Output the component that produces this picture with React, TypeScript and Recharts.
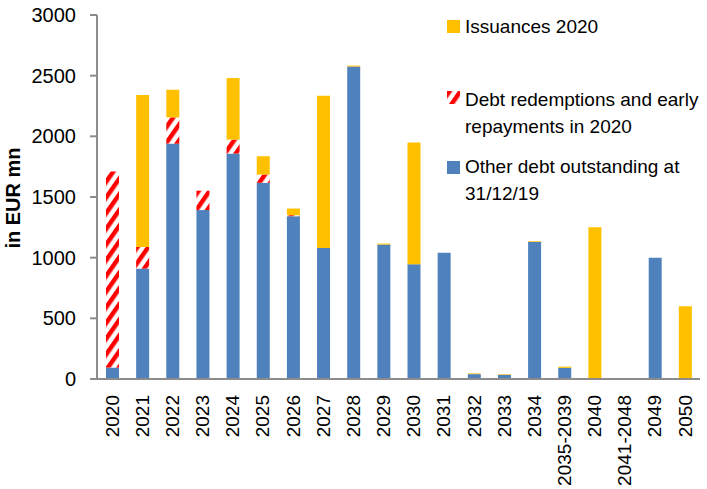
import React from 'react';
import { BarChart, Bar, XAxis, YAxis, Label } from 'recharts';

const categories = [
  '2020', '2021', '2022', '2023', '2024', '2025', '2026', '2027', '2028', '2029',
  '2030', '2031', '2032', '2033', '2034', '2035-2039', '2040', '2041-2048', '2049', '2050',
];
const otherDebt = [95, 910, 1940, 1392, 1858, 1617, 1342, 1079, 2575, 1108, 945, 1041, 40, 35, 1130, 92, 0, 0, 1000, 0];
const redemptions = [1615, 178, 216, 160, 115, 68, 8, 0, 0, 0, 0, 0, 0, 0, 0, 0, 0, 0, 0, 0];
const issuances = [0, 1252, 228, 0, 507, 151, 55, 1255, 8, 8, 1005, 0, 6, 5, 6, 10, 1250, 0, 0, 600];
const yTicks = [0, 500, 1000, 1500, 2000, 2500, 3000];

const data = categories.map((name, i) => ({
  name,
  other: otherDebt[i],
  redemptions: redemptions[i],
  issuances: issuances[i],
}));

const BLUE = '#4F81BD';
const YELLOW = '#FFC000';
const AXIS = '#8C8C8C';
const FONT = '"Liberation Sans", Arial, sans-serif';

const XTick = (props: any) => {
  const { x, y, payload } = props;
  return (
    <text
      x={x}
      y={y}
      transform={`rotate(-90, ${x}, ${y})`}
      textAnchor="end"
      dy="0.35em"
      dx={-8}
      fontSize={19}
      fontFamily={FONT}
      fill="#000"
    >
      {payload.value}
    </text>
  );
};

const legendText: React.CSSProperties = { fontSize: 19, lineHeight: '27px', color: '#000' };

// legend drawn as an overlay so it doesn't shrink the plot area
const LegendBox = () => (
  <div style={{ fontFamily: FONT, position: 'absolute', left: 440, top: 0, width: 267, height: 200 }}>
    <div style={{ position: 'absolute', left: 7, top: 20, width: 13, height: 13, background: YELLOW }} />
    <div style={{ ...legendText, position: 'absolute', left: 25, top: 13 }}>Issuances 2020</div>
    <svg style={{ position: 'absolute', left: 7, top: 91 }} width={13} height={13}>
      <rect width={13} height={13} fill="url(#hatchRed)" />
    </svg>
    <div style={{ ...legendText, position: 'absolute', left: 25, top: 86, whiteSpace: 'nowrap' }}>
      Debt redemptions and early
      <br />
      repayments in 2020
    </div>
    <div style={{ position: 'absolute', left: 7, top: 161, width: 13, height: 13, background: BLUE }} />
    <div style={{ ...legendText, position: 'absolute', left: 25, top: 153, whiteSpace: 'nowrap' }}>
      Other debt outstanding at
      <br />
      31/12/19
    </div>
  </div>
);

export default function App() {
  return (
    <div style={{ position: 'absolute', left: 0, top: 0, width: 707, height: 489, background: '#fff' }}>
      <svg width={0} height={0} style={{ position: 'absolute' }}>
        <defs>
          <pattern id="hatchRed" patternUnits="userSpaceOnUse" width={9} height={9} patternTransform="rotate(35)">
            <rect x={0} y={0} width={9} height={9} fill="#fff" />
            <rect x={0} y={0} width={4.5} height={9} fill="#FF0000" />
          </pattern>
        </defs>
      </svg>
      <BarChart
        width={707}
        height={489}
        data={data}
        margin={{ top: 15, right: 7, left: 0, bottom: 0 }}
        barSize={13}
      >
        <XAxis
          dataKey="name"
          interval={0}
          height={110}
          tickLine={false}
          axisLine={{ stroke: AXIS, strokeWidth: 2 }}
          tick={<XTick />}
        />
        <YAxis
          width={97}
          domain={[0, 3000]}
          ticks={yTicks}
          interval={0}
          tickSize={7}
          tickMargin={14}
          tickLine={{ stroke: AXIS, strokeWidth: 2 }}
          axisLine={{ stroke: AXIS, strokeWidth: 2 }}
          tick={{ fontSize: 20, fill: '#000', fontFamily: FONT }}
        >
          <Label
            content={() => (
              <text
                x={20}
                y={198}
                transform="rotate(-90, 20, 198)"
                textAnchor="middle"
                fontSize={20}
                fontWeight="bold"
                fontFamily={FONT}
                fill="#000"
              >
                in EUR mn
              </text>
            )}
          />
        </YAxis>
        <Bar dataKey="other" stackId="a" fill={BLUE} isAnimationActive={false} />
        <Bar dataKey="redemptions" stackId="a" fill="url(#hatchRed)" isAnimationActive={false} />
        <Bar dataKey="issuances" stackId="a" fill={YELLOW} isAnimationActive={false} />
      </BarChart>
      <LegendBox />
    </div>
  );
}
